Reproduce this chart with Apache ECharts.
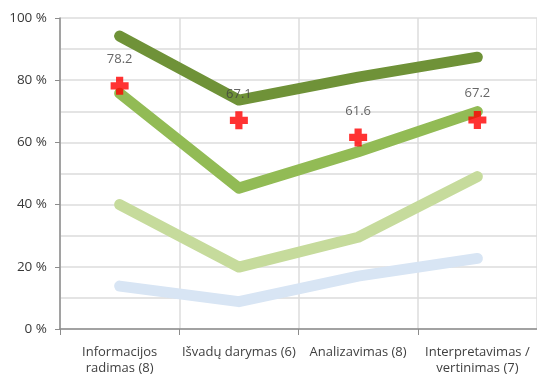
<!DOCTYPE html>
<html><head><meta charset="utf-8">
<script src="https://cdn.jsdelivr.net/npm/echarts@6/dist/echarts.min.js"></script>
<style>html,body{margin:0;padding:0;background:#fff}#c{width:537px;height:374px}</style>
</head><body><div id="c"></div>
<script>
const categories = ["Informacijos\nradimas (8)", "Išvadų darymas (6)", "Analizavimas (8)", "Interpretavimas /\nvertinimas (7)"];
const seriesDark = [94.2, 73.6, 81.0, 87.4];
const seriesMid = [75.8, 45.3, 57.0, 69.9];
const seriesLight = [40.0, 19.9, 29.5, 49.0];
const seriesBlue = [13.8, 8.8, 17.0, 22.7];
const markerValues = [78.2, 67.1, 61.6, 67.2];

const chart = echarts.init(document.getElementById('c'));
const lineS = (data, color) => ({
  type: 'line', data, symbol: 'none', smooth: false,
  lineStyle: { color, width: 11, cap: 'round', join: 'round' }, z: 2
});
chart.setOption({
  animation: false,
  grid: { left: 60, right: 0, top: 18, bottom: 45, containLabel: false, outerBoundsMode: 'none' },
  xAxis: {
    type: 'category', data: categories, boundaryGap: true,
    axisLine: { lineStyle: { color: '#8c8c8c', width: 1.5 } },
    axisTick: { show: true, interval: 0, length: 6, lineStyle: { color: '#8c8c8c' } },
    splitLine: { show: true, interval: 0, lineStyle: { color: '#dcdcdc', width: 1.5 } },
    axisLabel: { interval: 0, color: '#404040', fontFamily: 'Open Sans', fontSize: 13, lineHeight: 16, margin: 15 }
  },
  yAxis: {
    type: 'value', min: 0, max: 100, interval: 20,
    axisLine: { show: true, lineStyle: { color: '#8c8c8c', width: 1.5 } },
    axisTick: { show: true, length: 5, lineStyle: { color: '#8c8c8c' } },
    splitLine: { show: true, lineStyle: { color: '#dcdcdc', width: 1.5 } },
    minorTick: { show: false, splitNumber: 2 },
    minorSplitLine: { show: true, lineStyle: { color: '#dcdcdc', width: 1.5 } },
    axisLabel: { color: '#383838', fontFamily: 'Open Sans', fontSize: 13.5, margin: 13, formatter: v => v + ' %' }
  },
  series: [
    lineS(seriesBlue, '#d8e5f4'),
    lineS(seriesLight, '#c6db9c'),
    lineS(seriesMid, '#92bb55'),
    lineS(seriesDark, '#6f9238'),
    {
      type: 'scatter', data: markerValues, z: 5,
      symbol: 'path://M3,0 L7,0 L7,3 L10,3 L10,7 L7,7 L7,10 L3,10 L3,7 L0,7 L0,3 L3,3 Z',
      symbolSize: 18,
      itemStyle: { color: '#ff0000' },
      label: { show: true, position: 'top', distance: 11, color: '#404040', fontFamily: 'Open Sans', fontSize: 13, formatter: p => p.value.toFixed(1) }
    }
  ]
});
</script></body></html>
